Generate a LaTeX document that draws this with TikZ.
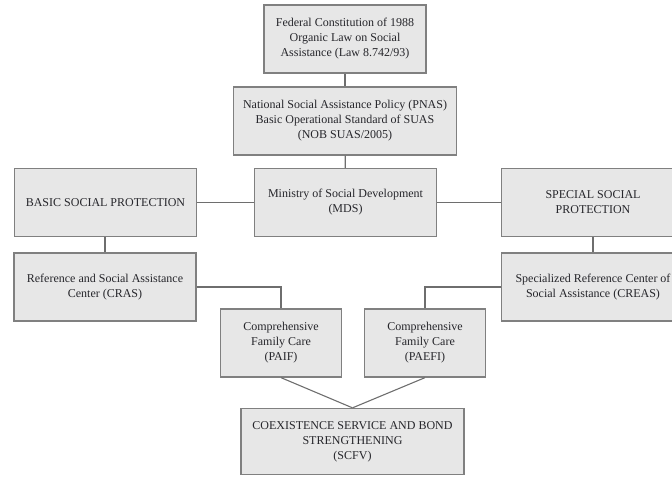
\documentclass[tikz,border=0pt]{standalone}
\usepackage{fontspec}
\setmainfont{Liberation Serif}
\definecolor{boxfill}{HTML}{E7E7E7}
\definecolor{boxline}{HTML}{808080}
\definecolor{linkcol}{HTML}{6E6E6E}
\definecolor{textcol}{HTML}{26262B}
\begin{document}
\begin{tikzpicture}[x=1pt, y=-1pt,
  box/.style={draw=boxline, fill=boxfill, line width=1.3pt, text=textcol, align=center,
    inner sep=2pt, minimum height=68pt, font=\fontsize{12}{15}\selectfont},
  widebox/.style={box, minimum width=182pt},
  smallbox/.style={box, minimum width=121pt},
  link/.style={draw=linkcol, line width=1.1pt}]
\useasboundingbox (0,0) rectangle (672,478);
\clip (0,0) rectangle (672,478);
%----------------- legal basis -----------------
\node[box, minimum width=162pt] (law) at (345,39) {Federal Constitution of 1988\\Organic Law on Social\\Assistance (Law 8.742/93)};
\node[box, minimum width=223pt] (pnas) at (345,121) {National Social Assistance Policy (PNAS)\\Basic Operational Standard of SUAS\\(NOB SUAS/2005)};
%----------------- ministry and protection levels -----------------
\node[widebox] (basic) at (105.5,202.5) {BASIC SOCIAL PROTECTION};
\node[widebox] (mds) at (345.5,202.5) {Ministry of Social Development\\(MDS)};
\node[widebox, minimum width=183pt] (special) at (593,202.5) {SPECIAL SOCIAL\\PROTECTION};
%----------------- centers -----------------
\node[widebox] (cras) at (105,287) {Reference and Social Assistance\\Center (CRAS)};
\node[widebox, minimum width=183pt] (creas) at (593,287) {Specialized Reference Center of\\Social Assistance (CREAS)};
%----------------- programmes -----------------
\node[smallbox] (paif) at (281,343) {Comprehensive\\Family Care\\(PAIF)};
\node[smallbox] (paefi) at (425,343) {Comprehensive\\Family Care\\(PAEFI)};
\node[box, minimum width=223pt, minimum height=66pt] (scfv) at (352.5,441.5) {COEXISTENCE SERVICE AND BOND\\STRENGTHENING\\(SCFV)};
%----------------- links -----------------
\draw[link] (law) -- (pnas);
\draw[link] (pnas) -- (mds);
\draw[link] (basic) -- (mds);
\draw[link] (mds) -- (special);
\draw[link] (basic.south -| cras.north) -- (cras.north);
\draw[link] (special) -- (creas);
\draw[link] (cras.east) -| (paif.north);
\draw[link] (creas.west) -| (paefi.north);
\draw[link] (paif.south) -- (scfv.north);
\draw[link] (paefi.south) -- (scfv.north);
\end{tikzpicture}
\end{document}
